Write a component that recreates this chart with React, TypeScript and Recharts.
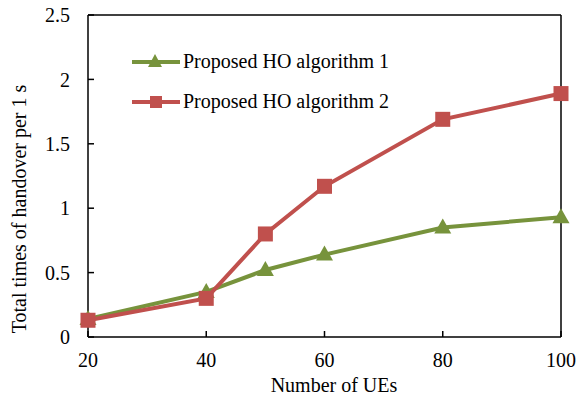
import { LineChart, Line, XAxis, YAxis, ReferenceLine, Legend, Label } from 'recharts';

const ues = [20, 40, 50, 60, 80, 100];
const algo1 = [0.14, 0.35, 0.52, 0.64, 0.85, 0.93];
const algo2 = [0.13, 0.3, 0.8, 1.17, 1.69, 1.89];
const xTicks = [20, 40, 60, 80, 100];
const yTicks = [0, 0.5, 1, 1.5, 2, 2.5];

const GREEN = '#77933C';
const RED = '#C0504D';
const FONT = '"Liberation Serif", "Times New Roman", serif';
const FS = 20;

const data = ues.map((u, i) => ({ ues: u, a1: algo1[i], a2: algo2[i] }));

const Triangle = (props: any) => {
  const { cx, cy, fill } = props;
  if (cx == null || cy == null) return null;
  return (
    <polygon
      key={`t-${props.index}`}
      points={`${cx},${cy - 9} ${cx - 8.5},${cy + 6} ${cx + 8.5},${cy + 6}`}
      fill={fill}
    />
  );
};

const Square = (props: any) => {
  const { cx, cy, fill } = props;
  if (cx == null || cy == null) return null;
  return <rect key={`s-${props.index}`} x={cx - 7.5} y={cy - 7.5} width={15} height={15} fill={fill} />;
};

const LegendBox = () => (
  <svg width={300} height={70} style={{ display: 'block' }}>
    <line x1={4} y1={12} x2={52} y2={12} stroke={GREEN} strokeWidth={4} />
    <polygon points="27,4 20,17 34,17" fill={GREEN} />
    <text x={55} y={18} fontFamily={FONT} fontSize={FS} fill="#000">Proposed HO algorithm 1</text>
    <line x1={4} y1={52} x2={52} y2={52} stroke={RED} strokeWidth={4} />
    <rect x={22} y={46} width={12} height={12} fill={RED} />
    <text x={55} y={58} fontFamily={FONT} fontSize={FS} fill="#000">Proposed HO algorithm 2</text>
  </svg>
);

export default function App() {
  const tickStyle = { fontFamily: FONT, fontSize: FS, fill: '#000' };
  return (
    <div style={{ position: 'absolute', left: 0, top: 0 }}>
      <LineChart width={577} height={403} data={data} margin={{ top: 15, right: 16, bottom: 0, left: 0 }}>
        <XAxis
          dataKey="ues"
          type="number"
          domain={[20, 100]}
          ticks={xTicks}
          height={66}
          stroke="#000"
          strokeWidth={1.5}
          tickSize={-6}
          tickMargin={22}
          tick={tickStyle}
        >
          <Label
            content={() => (
              <text x={334} y={392} textAnchor="middle" fontFamily={FONT} fontSize={FS} fill="#000">
                Number of UEs
              </text>
            )}
          />
        </XAxis>
        <YAxis
          type="number"
          domain={[0, 2.5]}
          ticks={yTicks}
          width={88}
          stroke="#000"
          strokeWidth={1.5}
          tickSize={-6}
          tickMargin={24}
          tick={tickStyle}
        >
          <Label
            content={() => (
              <text
                x={26}
                y={209}
                transform="rotate(-90, 26, 209)"
                textAnchor="middle"
                fontFamily={FONT}
                fontSize={FS}
                fill="#000"
              >
                Total times of handover per 1 s
              </text>
            )}
          />
        </YAxis>
        <ReferenceLine y={2.5} stroke="#000" strokeWidth={1.5} />
        <ReferenceLine x={100} stroke="#000" strokeWidth={1.5} />
        <Legend
          layout="vertical"
          align="center"
          verticalAlign="middle"
          wrapperStyle={{ position: 'absolute', left: 128, top: 50, width: 300 }}
          content={() => <LegendBox />}
        />
        <Line
          dataKey="a1"
          name="Proposed HO algorithm 1"
          stroke={GREEN}
          fill={GREEN}
          strokeWidth={4}
          dot={<Triangle fill={GREEN} />}
          isAnimationActive={false}
        />
        <Line
          dataKey="a2"
          name="Proposed HO algorithm 2"
          stroke={RED}
          fill={RED}
          strokeWidth={4}
          dot={<Square fill={RED} />}
          isAnimationActive={false}
        />
      </LineChart>
    </div>
  );
}
